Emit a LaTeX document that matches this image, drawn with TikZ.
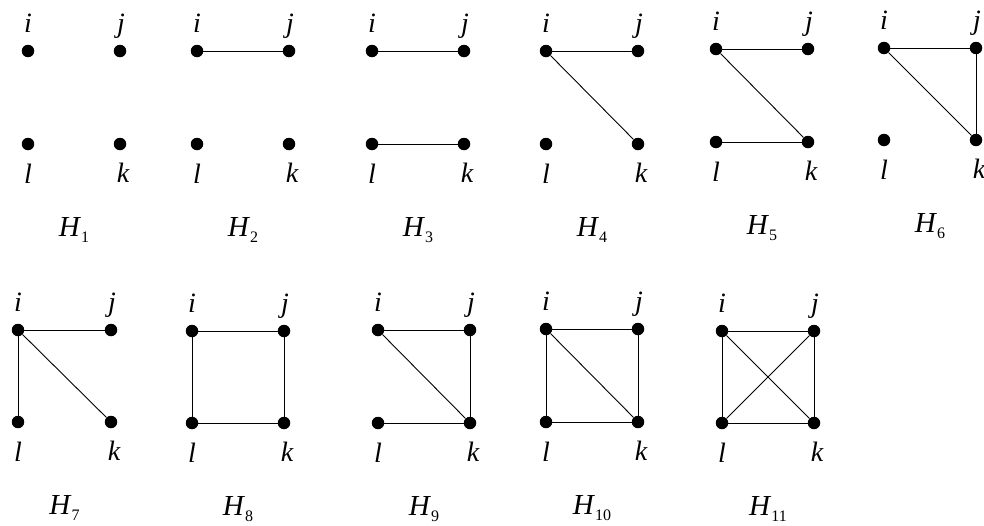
\documentclass[tikz,border=0pt]{standalone}
\usepackage{fontspec}
\setmainfont{Liberation Serif}
\begin{document}
\begin{tikzpicture}[x=1pt,y=-1pt,
  vtx/.style={circle,fill=black,inner sep=0pt,minimum size=12.5pt},
  lbl/.style={inner sep=0pt,anchor=base,font=\fontsize{28}{28}\selectfont\itshape},
  glbl/.style={inner sep=0pt,anchor=base,font=\fontsize{29}{29}\selectfont},
  edge/.style={line width=0.9pt,black}]
\useasboundingbox (0,0) rectangle (984,525);
\newcommand\mkgraph[6]{%
  \node[vtx] (#1i) at (#2,#4) {};
  \node[vtx] (#1j) at (#3,#4) {};
  \node[vtx] (#1l) at (#2,#5) {};
  \node[vtx] (#1k) at (#3,#5) {};
  \node[lbl] (#1ti) at (#2,#4-19) {i};
  \node[lbl] (#1tj) at (#3+1,#4-19) {j};
  \node[lbl] (#1tl) at (#2,#5+39) {l};
  \node[lbl] (#1tk) at (#3+3,#5+38) {k};
  \node[glbl] (#1name) at ({(#2+#3)/2},#5+92) {\textit{H}\raisebox{-6.5pt}{\fontsize{16}{16}\selectfont #6}};
}
\mkgraph{a}{28}{120}{51}{144}{1}
\mkgraph{b}{197}{289}{51}{144}{2}
\mkgraph{c}{372}{464}{51}{144}{3}
\mkgraph{d}{546}{638}{51}{144}{4}
\mkgraph{e}{716}{808}{49}{142}{5}
\mkgraph{f}{884}{976}{48}{140}{6}
\mkgraph{g}{18}{111}{330}{422}{7}
\mkgraph{h}{192}{284}{331}{423}{8}
\mkgraph{m}{378}{470}{330}{423}{9}
\mkgraph{n}{546}{638}{329}{422}{10}
\mkgraph{p}{722}{814}{331}{423}{11}
% H2
\draw[edge] (bi) -- (bj);
% H3
\draw[edge] (ci) -- (cj); \draw[edge] (cl) -- (ck);
% H4
\draw[edge] (di) -- (dj); \draw[edge] (di) -- (dk);
% H5
\draw[edge] (ei) -- (ej); \draw[edge] (ei) -- (ek); \draw[edge] (el) -- (ek);
% H6
\draw[edge] (fi) -- (fj); \draw[edge] (fi) -- (fk); \draw[edge] (fj) -- (fk);
% H7
\draw[edge] (gi) -- (gj); \draw[edge] (gi) -- (gk); \draw[edge] (gi) -- (gl);
% H8
\draw[edge] (hi) -- (hj); \draw[edge] (hj) -- (hk); \draw[edge] (hk) -- (hl); \draw[edge] (hl) -- (hi);
% H9
\draw[edge] (mi) -- (mj); \draw[edge] (mi) -- (mk); \draw[edge] (mj) -- (mk); \draw[edge] (ml) -- (mk);
% H10
\draw[edge] (ni) -- (nj); \draw[edge] (ni) -- (nk); \draw[edge] (nj) -- (nk); \draw[edge] (nl) -- (nk); \draw[edge] (ni) -- (nl);
% H11
\draw[edge] (pi) -- (pj); \draw[edge] (pi) -- (pk); \draw[edge] (pj) -- (pk); \draw[edge] (pl) -- (pk); \draw[edge] (pi) -- (pl); \draw[edge] (pj) -- (pl);
\end{tikzpicture}
\end{document}
